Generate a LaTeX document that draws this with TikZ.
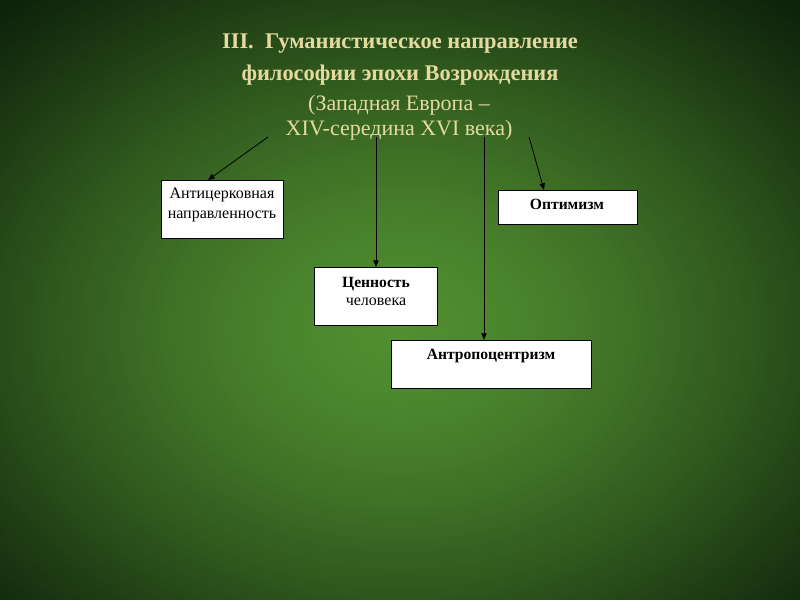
\documentclass[tikz,border=0pt]{standalone}
\usepackage{fontspec}
\setmainfont{Liberation Serif}
\usetikzlibrary{arrows.meta,calc}
\definecolor{bgA}{RGB}{80,142,48}
\definecolor{bgG}{RGB}{10,26,8}
\definecolor{titlecol}{RGB}{228,218,160}
\tikzset{
  box/.style={draw=black, fill=white, line width=0.6pt, anchor=north west, inner sep=0pt},
  ttl/.style={text=titlecol, font=\fontsize{16.8pt}{19pt}\selectfont\bfseries, anchor=base, inner sep=0pt},
  sub/.style={text=titlecol, font=\fontsize{16.5pt}{19pt}\selectfont, anchor=base, inner sep=0pt},
  bt/.style={font=\fontsize{12pt}{14pt}\selectfont, anchor=base, inner sep=0pt},
  bb/.style={font=\fontsize{11.7pt}{14pt}\selectfont\bfseries, anchor=base, inner sep=0pt},
  arr/.style={draw=black, line width=0.6pt, -{Triangle[length=5pt,width=4pt]}}
}
\begin{document}
\begin{tikzpicture}[x=0.75pt,y=-0.75pt]
\useasboundingbox (0,0) rectangle (800,600);
\begin{scope}
\clip (0,0) rectangle (800,600);
\fill[bgG] (0,0) rectangle (800,600);
\foreach \i in {0,...,79}{
  \pgfmathsetmacro{\t}{1-\i/80}
  \pgfmathsetmacro{\p}{100*(max(1-\t^1.6,0.0001))^1.3}
  \pgfmathsetmacro{\rx}{640*\t}
  \pgfmathsetmacro{\ry}{480*\t}
  \colorlet{tmpbg}{bgA!\p!bgG}
  \fill[tmpbg] (400,330) ellipse[x radius=\rx, y radius=\ry];
}
\end{scope}
% title
\node[ttl] (t1) at (400,48) {III.\ \ Гуманистическое направление};
\node[ttl] (t2) at (400,80) {философии эпохи Возрождения};
\node[sub] (t3) at (399,110) {(Западная Европа –};
\node[sub] (t4) at (399,135) {XIV-середина XVI века)};
% boxes
\node[box, minimum width=91.5pt, minimum height=43.5pt] (anti) at (161,180) {};
\node[bt] (anti1) at (222,198) {Антицерковная};
\node[bt] (anti2) at (222,218) {направленность};
\node[box, minimum width=104pt, minimum height=25.5pt] (opt) at (498,190) {};
\node[bb] (opt1) at (567,209) {Оптимизм};
\node[box, minimum width=92pt, minimum height=43.5pt] (val) at (314,267) {};
\node[bb] (val1) at (376,287) {Ценность};
\node[bt] (val2) at (376,305) {человека};
\node[box, minimum width=150pt, minimum height=36pt] (anthro) at (391,340) {};
\node[bb] (anthro1) at (491,359) {Антропоцентризм};
% arrow starts
\coordinate (s1) at (268,137);
\coordinate (s2) at (376,137);
\coordinate (s3) at (484,137);
\coordinate (s4) at (529,137);
\draw[arr] (s1) -- ($(anti.north west)+(47,0)$);
\draw[arr] (s2) -- (s2 |- val.north);
\draw[arr] (s3) -- (s3 |- anthro.north);
\draw[arr] (s4) -- ($(opt.north west)+(46,0)$);
\end{tikzpicture}
\end{document}
